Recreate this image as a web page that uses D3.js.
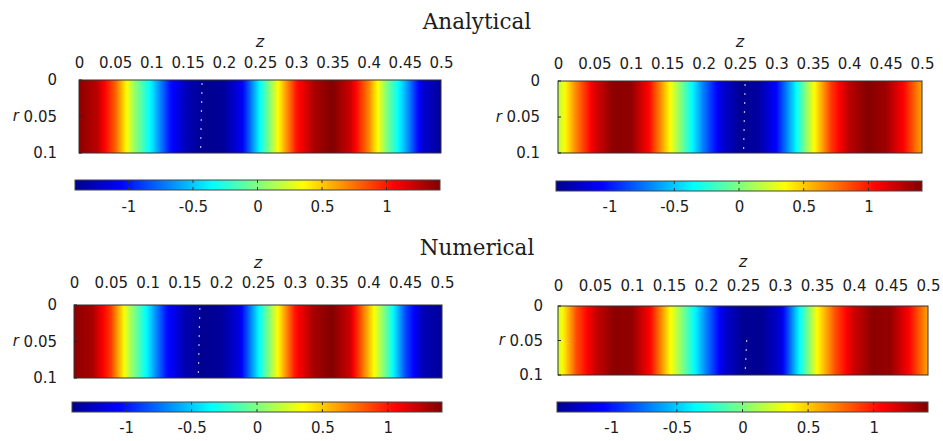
<!DOCTYPE html>
<html>
<head>
<meta charset="utf-8">
<script src="https://cdn.jsdelivr.net/npm/d3@7"></script>
<style>
body { margin: 0; background: #fff; }
svg { display: block; }
.tick text { font-family: "DejaVu Sans", sans-serif; font-size: 15px; fill: #1c1c1c; }
</style>
</head>
<body>
<div id="chart-area"></div>
<script>
// data
var zTicks = [0, 0.05, 0.1, 0.15, 0.2, 0.25, 0.3, 0.35, 0.4, 0.45, 0.5];
var rTicks = [0, 0.05, 0.1];
var cTicks = [-1, -0.5, 0, 0.5, 1];
var cRange = [-1.414, 1.414];
var zSamples = [0, 0.025, 0.05, 0.075, 0.1, 0.125, 0.15, 0.175, 0.2, 0.225, 0.25,
                0.275, 0.3, 0.325, 0.35, 0.375, 0.4, 0.425, 0.45, 0.475, 0.5];
var analyticalLeft  = [1.38, 1.25, 0.8, 0.1, -0.4, -1.0, -1.3, -1.41, -1.38, -1.1, -0.35,
                       0.35, 1.0, 1.3, 1.41, 1.2, 0.7, 0.0, -0.55, -1.2, -1.38];
var analyticalRight = [0.15, 0.7, 1.15, 1.38, 1.37, 1.05, 0.45, -0.15, -0.72, -1.18, -1.4,
                       -1.36, -1.05, -0.42, 0.3, 0.9, 1.25, 1.4, 1.33, 1.05, 0.6];
var numericalLeft   = [1.38, 1.3, 0.9, 0.15, -0.4, -1.0, -1.3, -1.41, -1.38, -1.15, -0.4,
                       0.3, 1.0, 1.3, 1.41, 1.2, 0.55, -0.1, -0.85, -1.3, -1.38];
var numericalRight  = [0.2, 0.85, 1.2, 1.38, 1.36, 1.05, 0.4, -0.15, -0.7, -1.2, -1.4,
                       -1.4, -1.2, -0.4, 0.35, 0.85, 1.2, 1.38, 1.35, 1.05, 0.6];
var titles = ["Analytical", "Numerical"];
var artefactZ = [0.17, 0.257, 0.171, 0.255];
var artefactR = [0, 0, 0, 0.045];

var series = [analyticalLeft, analyticalRight, numericalLeft, numericalRight];

// page layout in pixels
var layout = [
  {x0: 79,  x1: 441, y0: 80,  y1: 153, bx0: 75,  bx1: 440, by0: 180, by1: 190, tickGap: 12, zGap: 33, rGap: 22, cGap: 11},
  {x0: 558, x1: 922, y0: 81,  y1: 153, bx0: 556, bx1: 922, by0: 181, by1: 191, tickGap: 12, zGap: 34, rGap: 18, cGap: 10},
  {x0: 74,  x1: 442, y0: 305, y1: 378, bx0: 72,  bx1: 442, by0: 402, by1: 412, tickGap: 17, zGap: 37, rGap: 17, cGap: 10},
  {x0: 558, x1: 928, y0: 306, y1: 375, bx0: 557, bx1: 928, by0: 402, by1: 412, tickGap: 15, zGap: 39, rGap: 15, cGap: 10}
];
var titleY = [29, 255];

var svg = d3.select("#chart-area")
  .append("svg")
    .attr("width", 943)
    .attr("height", 441);

var defs = svg.append("defs");

// jet colormap over the colorbar range
var jet = d3.scaleLinear()
  .domain([0, 0.125, 0.375, 0.625, 0.875, 1].map(function(t) { return cRange[0] + t * (cRange[1] - cRange[0]); }))
  .range(["#00008f", "#0000ff", "#00ffff", "#ffff00", "#ff0000", "#800000"])
  .clamp(true);

svg.selectAll("text.title")
  .data(titles)
  .enter().append("text")
    .attr("class", "title")
    .attr("x", 477)
    .attr("y", function(d, i) { return titleY[i]; })
    .attr("text-anchor", "middle")
    .attr("font-family", "DejaVu Serif, serif")
    .attr("font-size", "21.5px")
    .attr("fill", "#1c1c1c")
    .text(function(d) { return d; });

series.forEach(function(values, i) {
  var p = layout[i];
  var x = d3.scaleLinear().domain([0, 0.5]).range([p.x0, p.x1]);
  var y = d3.scaleLinear().domain([0, 0.1]).range([p.y0, p.y1]);
  var field = d3.scaleLinear().domain(zSamples).range(values);

  // heat map: field only varies along z
  var grad = defs.append("linearGradient")
    .attr("id", "heat" + i)
    .attr("gradientUnits", "userSpaceOnUse")
    .attr("x1", p.x0).attr("x2", p.x1)
    .attr("y1", 0).attr("y2", 0);
  grad.selectAll("stop")
    .data(d3.range(0, 0.50001, 0.0025))
    .enter().append("stop")
      .attr("offset", function(z) { return (x(z) - p.x0) / (p.x1 - p.x0); })
      .attr("stop-color", function(z) { return jet(field(z)); });

  var g = svg.append("g");

  g.append("rect")
    .attr("x", x(0))
    .attr("y", y(0))
    .attr("width", x(0.5) - x(0))
    .attr("height", y(0.1) - y(0))
    .attr("fill", "url(#heat" + i + ")")
    .attr("stroke", "#333")
    .attr("stroke-width", 1);

  // white specks left in the image along the trough
  g.append("line")
    .attr("x1", x(artefactZ[i])).attr("x2", x(artefactZ[i]) - 1.5)
    .attr("y1", y(artefactR[i]) + 3).attr("y2", y(0.1) - 3)
    .attr("stroke", "#dde4ff")
    .attr("stroke-width", 1.2)
    .attr("stroke-dasharray", "2,7")
    .attr("opacity", 0.8);

  // left tick marks
  g.selectAll("line.rtick")
    .data(rTicks)
    .enter().append("line")
      .attr("class", "rtick")
      .attr("x1", x(0)).attr("x2", x(0) + 3)
      .attr("y1", function(d) { return y(d); })
      .attr("y2", function(d) { return y(d); })
      .attr("stroke", "#222");

  var topAxis = d3.axisTop(x)
    .tickValues(zTicks)
    .tickFormat(function(d) { return d; })
    .tickSize(0)
    .tickPadding(p.tickGap);
  g.append("g")
    .attr("transform", "translate(0," + p.y0 + ")")
    .call(topAxis)
    .call(function(a) { a.select(".domain").remove(); });

  var leftAxis = d3.axisLeft(y)
    .tickValues(rTicks)
    .tickFormat(function(d) { return d; })
    .tickSize(0)
    .tickPadding(p.rGap);
  g.append("g")
    .attr("transform", "translate(" + p.x0 + ",0)")
    .call(leftAxis)
    .call(function(a) { a.select(".domain").remove(); });

  g.append("text")
    .attr("x", x(0.25))
    .attr("y", p.y0 - p.zGap)
    .attr("text-anchor", "middle")
    .attr("font-family", "DejaVu Sans, sans-serif")
    .attr("font-style", "italic")
    .attr("font-size", "16px")
    .attr("fill", "#1c1c1c")
    .text("z");

  g.append("text")
    .attr("x", p.x0 - p.rGap - 38)
    .attr("y", y(0.05))
    .attr("dy", "0.32em")
    .attr("text-anchor", "end")
    .attr("font-family", "DejaVu Sans, sans-serif")
    .attr("font-style", "italic")
    .attr("font-size", "15px")
    .attr("fill", "#1c1c1c")
    .text("r");

  // colorbar
  var c = d3.scaleLinear().domain(cRange).range([p.bx0, p.bx1]);
  var cgrad = defs.append("linearGradient")
    .attr("id", "bar" + i)
    .attr("gradientUnits", "userSpaceOnUse")
    .attr("x1", p.bx0).attr("x2", p.bx1)
    .attr("y1", 0).attr("y2", 0);
  cgrad.selectAll("stop")
    .data(jet.domain())
    .enter().append("stop")
      .attr("offset", function(v) { return (c(v) - p.bx0) / (p.bx1 - p.bx0); })
      .attr("stop-color", function(v) { return jet(v); });

  g.append("rect")
    .attr("x", p.bx0)
    .attr("y", p.by0)
    .attr("width", p.bx1 - p.bx0)
    .attr("height", p.by1 - p.by0)
    .attr("fill", "url(#bar" + i + ")")
    .attr("stroke", "#444")
    .attr("stroke-width", 1);

  g.selectAll("path.ctick")
    .data(cTicks)
    .enter().append("path")
      .attr("class", "ctick")
      .attr("d", function(d) {
        return "M" + c(d) + "," + p.by0 + "v3M" + c(d) + "," + p.by1 + "v-3";
      })
      .attr("stroke", "#333");

  var barAxis = d3.axisBottom(c)
    .tickValues(cTicks)
    .tickFormat(function(d) { return d; })
    .tickSize(0)
    .tickPadding(p.cGap);
  g.append("g")
    .attr("transform", "translate(0," + p.by1 + ")")
    .call(barAxis)
    .call(function(a) { a.select(".domain").remove(); });
});
</script>
</body>
</html>
